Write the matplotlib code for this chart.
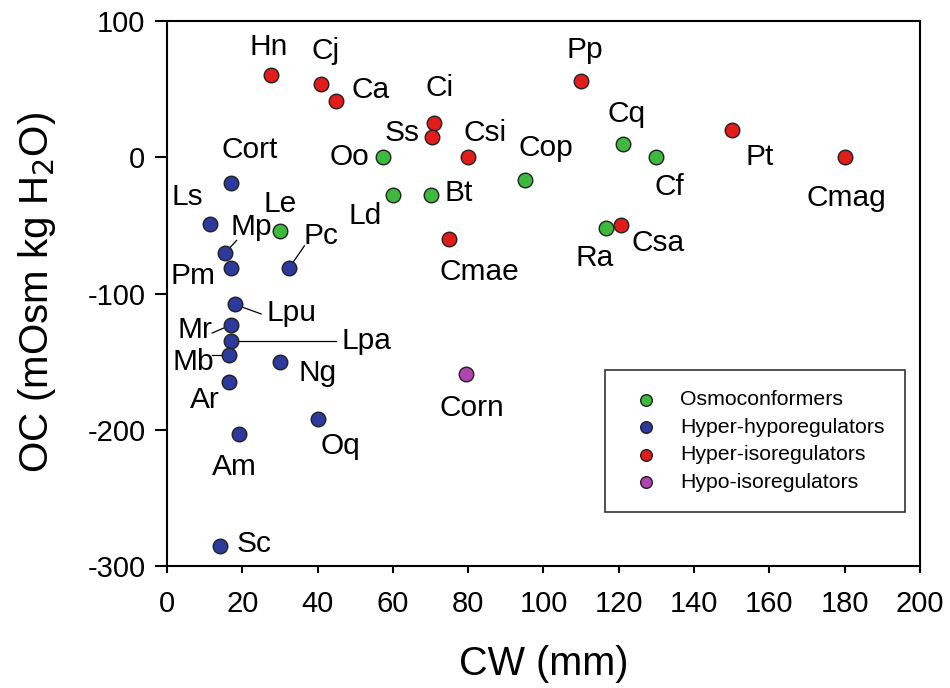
import matplotlib.pyplot as plt

plt.rcParams['font.family'] = ['Liberation Sans', 'DejaVu Sans']
plt.rcParams['axes.unicode_minus'] = False

# Species: carapace width (mm) and osmotic capacity (mOsm kg H2O)
osmo_names = ['Oo', 'Ld', 'Bt', 'Cop', 'Cq', 'Cf', 'Ra', 'Le']
osmo_cw = [57.5, 60, 70, 95, 121, 130, 116.5, 30]
osmo_oc = [0, -28, -28, -17, 10, 0, -52, -54]

hyper_hypo_names = ['Cort', 'Ls', 'Mp', 'Pm', 'Pc', 'Lpu', 'Mr', 'Lpa',
                    'Mb', 'Ar', 'Ng', 'Oq', 'Am', 'Sc']
hyper_hypo_cw = [17, 11.5, 15.5, 17, 32.5, 18, 17, 17, 16.5, 16.5, 30, 40, 19, 14]
hyper_hypo_oc = [-19, -49, -70, -81, -81, -108, -123, -135, -145, -165,
                 -150, -192, -203, -285]

hyper_iso_names = ['Hn', 'Cj', 'Ca', 'Ci', 'Ss', 'Csi', 'Pp', 'Pt', 'Cmag',
                   'Csa', 'Cmae']
hyper_iso_cw = [27.5, 41, 45, 71, 70.5, 80, 110, 150, 180, 120.5, 75]
hyper_iso_oc = [60, 54, 41, 25, 15, 0, 56, 20, 0, -50, -60]

hypo_iso_names = ['Corn']
hypo_iso_cw = [79.5]
hypo_iso_oc = [-159]

# where each species label sits (text centre, data units)
label_pos = {
    'Oo': (48.5, 0), 'Ld': (52.5, -43), 'Bt': (77.5, -26), 'Cop': (100.5, 7),
    'Cq': (122, 31.5), 'Cf': (133.5, -22), 'Ra': (113.5, -74), 'Le': (30, -34),
    'Cort': (22, 5), 'Ls': (5.5, -29), 'Mp': (22.5, -51), 'Pm': (7, -87),
    'Pc': (41, -58), 'Lpu': (33, -114), 'Mr': (7.5, -127), 'Lpa': (53, -135),
    'Mb': (7, -150), 'Ar': (10, -178), 'Ng': (40, -158), 'Oq': (46, -212),
    'Am': (18, -227), 'Sc': (23, -284),
    'Hn': (27, 81), 'Cj': (42, 78), 'Ca': (54, 49), 'Ci': (72.5, 51),
    'Ss': (62.5, 18), 'Csi': (84.5, 18), 'Pp': (111, 78.5), 'Pt': (157.5, 0),
    'Cmag': (180.5, -30), 'Csa': (130.5, -63), 'Cmae': (83, -84),
    'Corn': (81, -184),
}
# labels joined to their point by a short line, with the line's start
leader = {
    'Mp': (18.5, -61), 'Pc': (36.5, -65), 'Lpu': (25, -115), 'Mr': (12, -129),
    'Lpa': (45, -135), 'Mb': (12, -145),
}

groups = [
    (osmo_names, osmo_cw, osmo_oc, '#3dba3d', 'Osmoconformers'),
    (hyper_hypo_names, hyper_hypo_cw, hyper_hypo_oc, '#2b3a9c', 'Hyper-hyporegulators'),
    (hyper_iso_names, hyper_iso_cw, hyper_iso_oc, '#e21b1b', 'Hyper-isoregulators'),
    (hypo_iso_names, hypo_iso_cw, hypo_iso_oc, '#b244b2', 'Hypo-isoregulators'),
]

fig = plt.figure(figsize=(9.5, 6.88), dpi=100)
ax = fig.add_axes([0.1758, 0.1773, 0.7926, 0.7922])

for names, cw, oc, color, lab in groups:
    ax.scatter(cw, oc, s=110, c=color, edgecolors='#202020', linewidths=1.0,
               label=lab, zorder=3)
    for n, x, y in zip(names, cw, oc):
        tx, ty = label_pos[n]
        ax.text(tx, ty, n, fontsize=21.5, ha='center', va='center', zorder=4)
        if n in leader:
            lx, ly = leader[n]
            ax.plot([lx, x], [ly, y], color='black', lw=0.9, zorder=2)

ax.set_xlim(0, 200)
ax.set_ylim(-300, 100)
ax.set_xticks(range(0, 201, 20))
ax.set_yticks(range(-300, 101, 100))
ax.tick_params(labelsize=21, width=1.5, direction='out')
ax.tick_params(axis='x', length=5, pad=12)
ax.tick_params(axis='y', length=8.5, pad=7)
for s in ax.spines.values():
    s.set_linewidth(1.5)

ax.set_xlabel('CW (mm)', fontsize=28.5, labelpad=20)
fig.text(37 / 950, 1 - 293 / 688, 'OC (mOsm kg H$_2$O)', fontsize=29,
         rotation=90, ha='center', va='center')

leg = ax.legend(loc='lower right', bbox_to_anchor=(0.980, 0.099), fontsize=15.3,
                frameon=True, fancybox=False, borderpad=0.95, handletextpad=0.6,
                labelspacing=0.4, markerscale=0.8, borderaxespad=0)
leg.get_frame().set_edgecolor('black')
leg.get_frame().set_linewidth(1.2)

fig.savefig('out.png', dpi=100)
